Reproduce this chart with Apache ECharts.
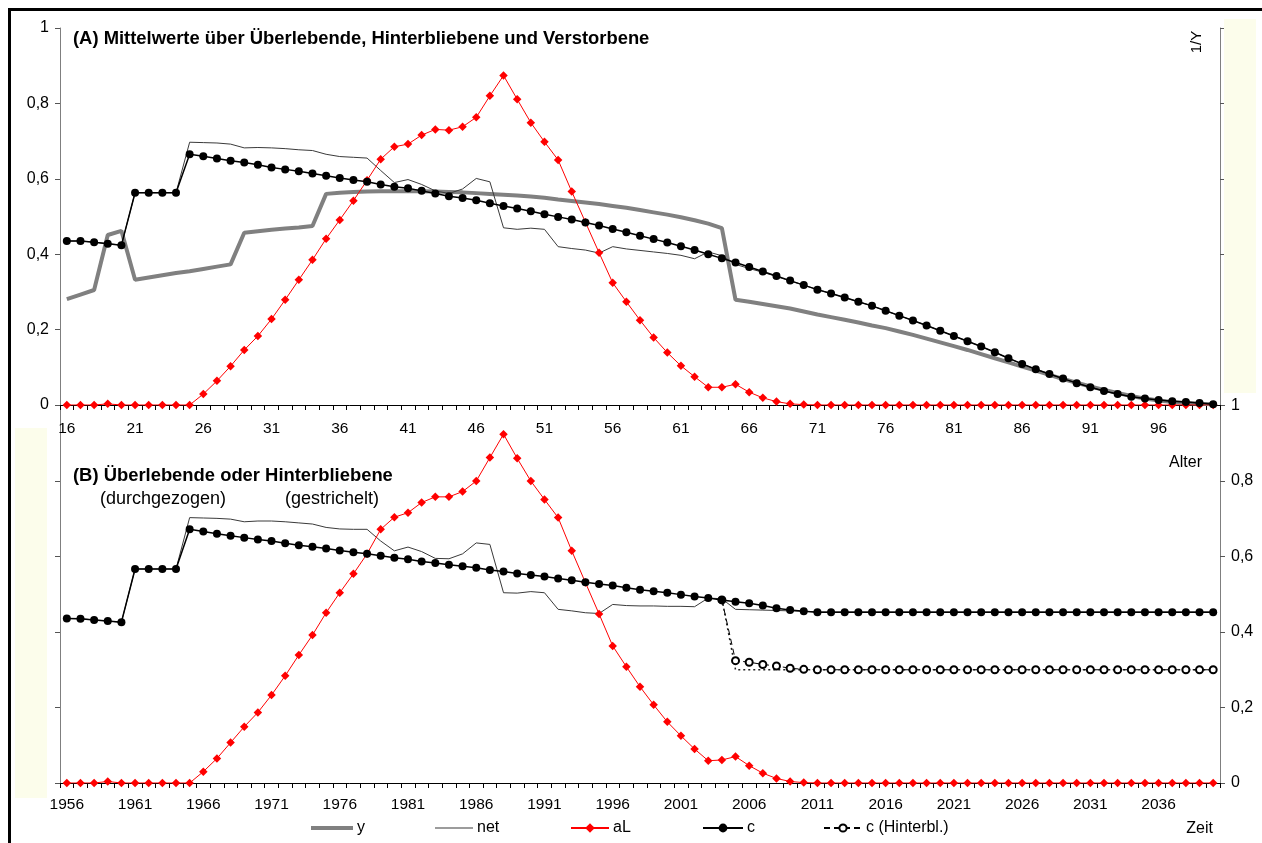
<!DOCTYPE html>
<html>
<head>
<meta charset="utf-8">
<script src="https://cdn.jsdelivr.net/npm/echarts@6/dist/echarts.min.js"></script>
<style>
  html, body { margin: 0; padding: 0; background: #ffffff; }
  #chart { width: 1262px; height: 843px; }
</style>
</head>
<body>
<div id="chart"></div>
<script>
// ---- categories -------------------------------------------------------
var ages = [];
for (var a = 16; a <= 100; a++) ages.push(String(a));
var years = [];
for (var yr = 1956; yr <= 2040; yr++) years.push(String(yr));

var yTicks = [0, 0.2, 0.4, 0.6, 0.8, 1];

// ---- (A) averages by age ---------------------------------------------
var yA = [
  0.281, 0.293, 0.305, 0.451, 0.462, 0.332, 0.338, 0.344, 0.350, 0.355,
  0.361, 0.367, 0.373, 0.457, 0.461, 0.465, 0.468, 0.471, 0.475, 0.560,
  0.563, 0.565, 0.566, 0.567, 0.567, 0.567, 0.567, 0.566, 0.565, 0.564,
  0.562, 0.560, 0.558, 0.556, 0.553, 0.550, 0.545, 0.541, 0.537, 0.533,
  0.528, 0.523, 0.517, 0.511, 0.505, 0.498, 0.490, 0.481, 0.469, 0.279,
  0.274, 0.268, 0.262, 0.256, 0.248, 0.240, 0.233, 0.226, 0.219, 0.211,
  0.204, 0.195, 0.186, 0.176, 0.166, 0.156, 0.146, 0.135, 0.124, 0.113,
  0.102, 0.091, 0.080, 0.069, 0.059, 0.049, 0.040, 0.032, 0.024, 0.017,
  0.012, 0.008, 0.005, 0.003, 0.002
];
var netA = [
  0.435, 0.435, 0.432, 0.428, 0.424, 0.563, 0.563, 0.563, 0.563, 0.697,
  0.696, 0.695, 0.692, 0.682, 0.683, 0.682, 0.680, 0.677, 0.675, 0.665,
  0.659, 0.657, 0.655, 0.622, 0.590, 0.598, 0.585, 0.568, 0.561, 0.573,
  0.601, 0.592, 0.470, 0.466, 0.469, 0.466, 0.420, 0.415, 0.411, 0.403,
  0.420, 0.414, 0.410, 0.406, 0.402, 0.397, 0.388, 0.406, 0.396, 0.373,
  0.362, 0.352, 0.341, 0.329, 0.318, 0.306, 0.296, 0.285, 0.274, 0.263,
  0.250, 0.237, 0.224, 0.211, 0.197, 0.183, 0.169, 0.155, 0.140, 0.124,
  0.109, 0.095, 0.082, 0.070, 0.058, 0.047, 0.037, 0.029, 0.022, 0.017,
  0.013, 0.010, 0.008, 0.005, 0.002
];
var aLA = [
  0, 0, 0, 0.003, 0, 0, 0, 0, 0, 0,
  0.029, 0.064, 0.103, 0.146, 0.183, 0.228, 0.279, 0.332, 0.385, 0.441,
  0.491, 0.542, 0.596, 0.652, 0.685, 0.692, 0.716, 0.731, 0.729, 0.738,
  0.763, 0.820, 0.874, 0.811, 0.749, 0.698, 0.650, 0.566, 0.485, 0.404,
  0.324, 0.274, 0.225, 0.179, 0.139, 0.104, 0.075, 0.047, 0.047, 0.055,
  0.034, 0.019, 0.009, 0.003, 0.001, 0, 0, 0, 0, 0,
  0, 0, 0, 0, 0, 0, 0, 0, 0, 0,
  0, 0, 0, 0, 0, 0, 0, 0, 0, 0,
  0, 0, 0, 0, 0
];
var cA = [
  0.435, 0.435, 0.432, 0.428, 0.424, 0.563, 0.563, 0.563, 0.563, 0.665,
  0.660, 0.654, 0.648, 0.643, 0.637, 0.630, 0.625, 0.620, 0.614, 0.608,
  0.602, 0.597, 0.592, 0.585, 0.579, 0.575, 0.568, 0.561, 0.554, 0.549,
  0.543, 0.535, 0.528, 0.521, 0.514, 0.506, 0.499, 0.492, 0.484, 0.476,
  0.467, 0.458, 0.449, 0.440, 0.431, 0.421, 0.411, 0.400, 0.389, 0.378,
  0.366, 0.354, 0.342, 0.330, 0.318, 0.306, 0.296, 0.285, 0.274, 0.263,
  0.250, 0.237, 0.224, 0.211, 0.197, 0.183, 0.169, 0.155, 0.140, 0.124,
  0.109, 0.095, 0.082, 0.070, 0.058, 0.047, 0.037, 0.029, 0.022, 0.017,
  0.013, 0.010, 0.008, 0.005, 0.002
];

// ---- (B) survivors or surviving dependants by year -------------------
var netB = [
  0.436, 0.435, 0.432, 0.429, 0.426, 0.567, 0.567, 0.567, 0.567, 0.703,
  0.702, 0.701, 0.699, 0.692, 0.694, 0.694, 0.692, 0.689, 0.686, 0.677,
  0.673, 0.672, 0.672, 0.641, 0.615, 0.625, 0.613, 0.595, 0.594, 0.607,
  0.636, 0.632, 0.504, 0.503, 0.507, 0.504, 0.460, 0.456, 0.451, 0.449,
  0.473, 0.470, 0.469, 0.469, 0.468, 0.468, 0.467, 0.490, 0.488, 0.460,
  0.459, 0.458, 0.457, 0.456, 0.455, 0.453, 0.453, 0.453, 0.453, 0.453,
  0.453, 0.453, 0.453, 0.453, 0.453, 0.453, 0.453, 0.453, 0.453, 0.453,
  0.453, 0.453, 0.453, 0.453, 0.453, 0.453, 0.453, 0.453, 0.453, 0.453,
  0.453, 0.453, 0.453, 0.453, 0.453
];
var aLB = [
  0, 0, 0, 0.004, 0, 0, 0, 0, 0, 0,
  0.030, 0.065, 0.107, 0.149, 0.187, 0.233, 0.284, 0.339, 0.392, 0.451,
  0.504, 0.554, 0.607, 0.672, 0.704, 0.716, 0.743, 0.758, 0.758, 0.772,
  0.800, 0.862, 0.924, 0.860, 0.800, 0.751, 0.703, 0.615, 0.531, 0.448,
  0.363, 0.308, 0.255, 0.207, 0.162, 0.125, 0.090, 0.059, 0.061, 0.070,
  0.046, 0.026, 0.012, 0.004, 0.001, 0, 0, 0, 0, 0,
  0, 0, 0, 0, 0, 0, 0, 0, 0, 0,
  0, 0, 0, 0, 0, 0, 0, 0, 0, 0,
  0, 0, 0, 0, 0
];
var cB = [
  0.436, 0.435, 0.432, 0.429, 0.426, 0.567, 0.567, 0.567, 0.567, 0.672,
  0.666, 0.660, 0.655, 0.650, 0.645, 0.641, 0.635, 0.630, 0.626, 0.621,
  0.616, 0.611, 0.607, 0.602, 0.597, 0.593, 0.587, 0.583, 0.578, 0.574,
  0.570, 0.564, 0.560, 0.555, 0.551, 0.547, 0.542, 0.537, 0.532, 0.527,
  0.523, 0.517, 0.512, 0.508, 0.504, 0.499, 0.494, 0.490, 0.485, 0.480,
  0.476, 0.470, 0.463, 0.458, 0.455, 0.452, 0.452, 0.452, 0.452, 0.452,
  0.452, 0.452, 0.452, 0.452, 0.452, 0.452, 0.452, 0.452, 0.452, 0.452,
  0.452, 0.452, 0.452, 0.452, 0.452, 0.452, 0.452, 0.452, 0.452, 0.452,
  0.452, 0.452, 0.452, 0.452, 0.452
];
var cHinterblB = [
  null, null, null, null, null, null, null, null, null, null,
  null, null, null, null, null, null, null, null, null, null,
  null, null, null, null, null, null, null, null, null, null,
  null, null, null, null, null, null, null, null, null, null,
  null, null, null, null, null, null, null, null, 0.485, 0.324,
  0.320, 0.314, 0.310, 0.304, 0.301, 0.300, 0.300, 0.300, 0.300, 0.300,
  0.300, 0.300, 0.300, 0.300, 0.300, 0.300, 0.300, 0.300, 0.300, 0.300,
  0.300, 0.300, 0.300, 0.300, 0.300, 0.300, 0.300, 0.300, 0.300, 0.300,
  0.300, 0.300, 0.300, 0.300, 0.300
];
var netHinterblB = [
  null, null, null, null, null, null, null, null, null, null,
  null, null, null, null, null, null, null, null, null, null,
  null, null, null, null, null, null, null, null, null, null,
  null, null, null, null, null, null, null, null, null, null,
  null, null, null, null, null, null, null, null, 0.488, 0.300,
  0.300, 0.300, 0.300, 0.300, 0.300, 0.300, 0.300, 0.300, 0.300, 0.300,
  0.300, 0.300, 0.300, 0.300, 0.300, 0.300, 0.300, 0.300, 0.300, 0.300,
  0.300, 0.300, 0.300, 0.300, 0.300, 0.300, 0.300, 0.300, 0.300, 0.300,
  0.300, 0.300, 0.300, 0.300, 0.300
];

// ---- styling -------------------------------------------------------
var FONT = 'Liberation Sans, Arial, Helvetica, sans-serif';
var GREY_AXIS = '#7f7f7f';
var CREAM = '#fcfdeb';

function fmtTick(v) {
  return String(Math.round(v * 10) / 10).replace('.', ',');
}

function catAxis(gridIndex, data, margin) {
  return {
    gridIndex: gridIndex,
    type: 'category',
    data: data,
    boundaryGap: true,
    axisLine: { show: true, lineStyle: { color: '#000', width: 1 } },
    axisTick: { show: true, interval: 0, length: 5, lineStyle: { color: '#000' } },
    axisLabel: { interval: 4, margin: margin, fontSize: 15.5, color: '#000', fontFamily: FONT },
    splitLine: { show: false }
  };
}

function valAxis(gridIndex, position, showLabels) {
  return {
    gridIndex: gridIndex,
    type: 'value',
    position: position,
    min: yTicks[0],
    max: yTicks[yTicks.length - 1],
    interval: 0.2,
    axisLine: { show: true, onZero: false, lineStyle: { color: GREY_AXIS, width: 1 } },
    axisTick: { show: true, length: 5, lineStyle: { color: '#555' } },
    axisLabel: {
      show: showLabels, margin: 11, fontSize: 16, color: '#000',
      fontFamily: FONT, formatter: fmtTick
    },
    splitLine: { show: false }
  };
}

function line(name, data, xi, yi, extra) {
  var s = {
    name: name, type: 'line', data: data,
    xAxisIndex: xi, yAxisIndex: yi,
    animation: false, silent: true,
    emphasis: { disabled: true },
    connectNulls: false
  };
  for (var k in extra) s[k] = extra[k];
  return s;
}

var styleY   = { symbol: 'none', lineStyle: { color: '#808080', width: 4 }, itemStyle: { color: '#808080' } };
var styleNet = { symbol: 'none', lineStyle: { color: '#3a3a3a', width: 1 }, itemStyle: { color: '#3a3a3a' } };
var styleAL  = { symbol: 'diamond', symbolSize: 8.5, lineStyle: { color: '#ff0000', width: 1 }, itemStyle: { color: '#ff0000' } };
var styleC   = { symbol: 'circle', symbolSize: 8, lineStyle: { color: '#000000', width: 1.5 }, itemStyle: { color: '#000000' } };
var styleCH  = { symbol: 'emptyCircle', symbolSize: 7,
                 lineStyle: { color: '#000000', width: 1, type: [6, 4] },
                 itemStyle: { color: '#000000', borderWidth: 1 } };
var styleNetH = { symbol: 'none', lineStyle: { color: '#222222', width: 1.5, type: [2, 3] }, itemStyle: { color: '#222222' } };

// one legend block per entry so each can sit at its own spot
function legendItem(name, left, width, icon, height) {
  var lg = {
    data: [name], left: left, top: 820, orient: 'horizontal',
    itemWidth: width, itemHeight: height || 12, itemGap: 0, padding: 0,
    selectedMode: false,
    textStyle: { fontSize: 16, color: '#000', fontFamily: FONT, padding: [0, 0, 0, -1] }
  };
  if (icon) lg.icon = icon;
  return lg;
}

function label(text, x, y, opts) {
  var st = { text: text, fill: '#000', fontSize: 16, fontFamily: FONT, align: 'left', verticalAlign: 'middle' };
  for (var k in opts) st[k] = opts[k];
  return { type: 'text', x: x, y: y, z: 100, silent: true, style: st };
}

var chart = echarts.init(document.getElementById('chart'), null, { renderer: 'canvas' });

chart.setOption({
  backgroundColor: '#ffffff',
  animation: false,
  textStyle: { fontFamily: FONT },
  grid: [
    { left: 60, right: 42, top: 28, height: 377, containLabel: false, outerBoundsMode: 'none' },
    { left: 60, right: 42, top: 405.5, height: 377.5, containLabel: false, outerBoundsMode: 'none' }
  ],
  xAxis: [
    catAxis(0, ages, 16),
    catAxis(1, years, 14)
  ],
  yAxis: [
    valAxis(0, 'left', true),
    valAxis(0, 'right', false),
    valAxis(1, 'left', false),
    valAxis(1, 'right', true)
  ],
  legend: [
    legendItem('y', 311, 42, 'rect', 4),
    legendItem('net', 435, 38, 'rect', 1),
    legendItem('aL', 570, 38, null, 12),
    legendItem('c', 702, 40, null, 11),
    legendItem('c (Hinterbl.)', 823, 38, null, 9)
  ],
  series: [
    line('y', yA, 0, 0, styleY),
    line('net', netA, 0, 0, styleNet),
    line('aL', aLA, 0, 0, styleAL),
    line('c', cA, 0, 0, styleC),

    line('net', netB, 1, 2, styleNet),
    line('net (Hinterbl.)', netHinterblB, 1, 2, styleNetH),
    line('aL', aLB, 1, 2, styleAL),
    line('c (Hinterbl.)', cHinterblB, 1, 2, styleCH),
    line('c', cB, 1, 2, styleC)
  ],
  graphic: [
    // outer frame
    { type: 'rect', z: 90, silent: true,
      shape: { x: 9.5, y: 9.5, width: 1400, height: 1000 },
      style: { fill: null, stroke: '#000', lineWidth: 3 } },
    // cream panels beside the axes
    { type: 'rect', z: 90, silent: true,
      shape: { x: 1224, y: 19, width: 32, height: 374 },
      style: { fill: CREAM } },
    { type: 'rect', z: 90, silent: true,
      shape: { x: 15, y: 428, width: 32, height: 370 },
      style: { fill: CREAM } },
    // titles and notes
    label('(A) Mittelwerte über Überlebende, Hinterbliebene und Verstorbene', 73, 39,
          { fontSize: 18.4, fontWeight: 'bold' }),
    label('(B) Überlebende oder Hinterbliebene', 73, 476,
          { fontSize: 18.4, fontWeight: 'bold' }),
    label('(durchgezogen)', 100, 499, { fontSize: 18 }),
    label('(gestrichelt)', 285, 499, { fontSize: 18 }),
    { type: 'text', x: 1197, y: 42, z: 100, silent: true, rotation: Math.PI / 2,
      style: { text: '1/Y', fill: '#000', fontSize: 15, fontFamily: FONT,
               align: 'center', verticalAlign: 'middle' } },
    label('Alter', 1202, 463, { align: 'right' }),
    label('Zeit', 1213, 829, { align: 'right' })
  ]
});
</script>
</body>
</html>
